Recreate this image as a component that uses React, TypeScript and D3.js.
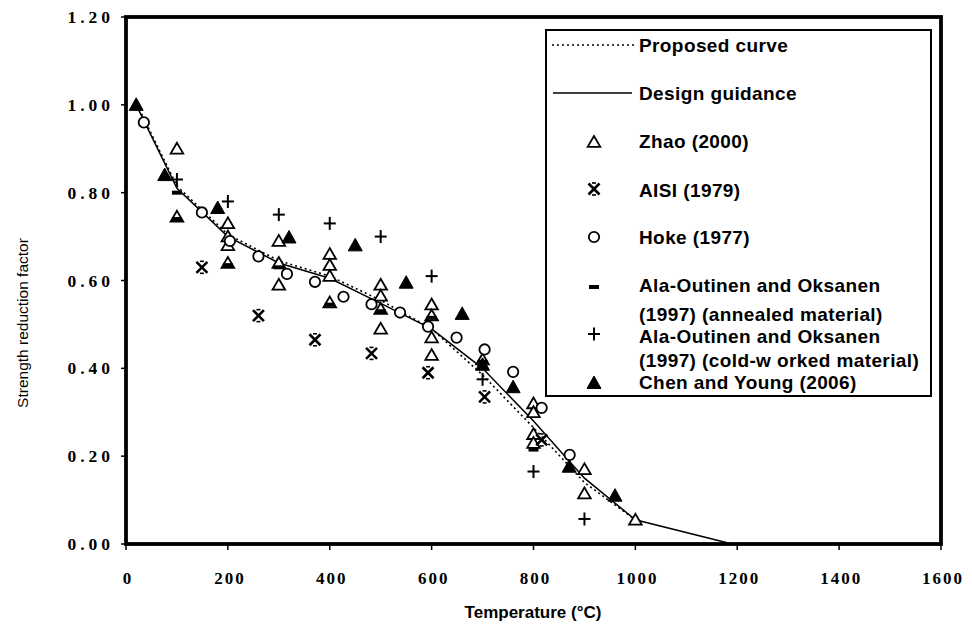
import React from 'react';
import * as d3 from 'd3';

type P = [number, number];

const xTicks = [0, 200, 400, 600, 800, 1000, 1200, 1400, 1600];
const yTicks = [0, 0.2, 0.4, 0.6, 0.8, 1.0, 1.2];

const proposedCurve: P[] = [
  [22, 1.0], [100, 0.815], [200, 0.705], [300, 0.645], [400, 0.61], [500, 0.555],
  [600, 0.49], [700, 0.385], [800, 0.265], [900, 0.14], [1000, 0.055],
];
const designGuidance: P[] = [
  [20, 1.0], [100, 0.81], [200, 0.70], [300, 0.64], [400, 0.605], [500, 0.548],
  [600, 0.49], [700, 0.40], [800, 0.28], [900, 0.15], [1000, 0.055], [1190, 0],
];
const zhao2000: P[] = [
  [100, 0.90], [100, 0.745], [200, 0.73], [200, 0.70], [200, 0.68], [200, 0.64],
  [300, 0.69], [300, 0.64], [300, 0.59], [400, 0.66], [400, 0.635], [400, 0.61], [400, 0.55],
  [500, 0.59], [500, 0.565], [500, 0.535], [500, 0.49], [600, 0.545], [600, 0.52],
  [600, 0.47], [600, 0.43], [700, 0.42], [800, 0.32], [800, 0.30], [800, 0.25],
  [800, 0.23], [900, 0.17], [900, 0.115], [1000, 0.055],
];
const aisi1979: P[] = [
  [149, 0.63], [260, 0.52], [371, 0.465], [482, 0.434], [593, 0.39], [704, 0.335], [816, 0.237],
];
const hoke1977: P[] = [
  [35, 0.96], [149, 0.755], [204, 0.69], [260, 0.655], [316, 0.615], [371, 0.597],
  [427, 0.563], [482, 0.546], [538, 0.527], [593, 0.495], [649, 0.47], [704, 0.443],
  [760, 0.392], [816, 0.31], [871, 0.203],
];
const alaAnnealed: P[] = [
  [100, 0.80], [100, 0.74], [200, 0.635], [300, 0.63], [400, 0.545], [500, 0.53],
  [600, 0.515], [700, 0.415], [800, 0.215],
];
const alaColdWorked: P[] = [
  [100, 0.83], [200, 0.78], [300, 0.75], [400, 0.73], [500, 0.70], [600, 0.61],
  [700, 0.375], [800, 0.165], [900, 0.057],
];
const chenYoung2006: P[] = [
  [20, 1.0], [76, 0.84], [180, 0.765], [320, 0.698], [450, 0.68], [550, 0.595],
  [660, 0.524], [700, 0.408], [760, 0.357], [870, 0.176], [960, 0.11],
];

const legendLabels = [
  'Proposed curve', 'Design guidance', 'Zhao (2000)', 'AISI (1979)', 'Hoke (1977)',
  'Ala-Outinen and Oksanen', '(1997) (annealed material)',
  'Ala-Outinen and Oksanen', '(1997) (cold-w orked material)', 'Chen and Young (2006)',
];

type MType = 'tri' | 'x' | 'circle' | 'dash' | 'plus' | 'ftri';

function Marker({ t, cx, cy }: { t: MType; cx: number; cy: number }) {
  const sw = 1.8;
  switch (t) {
    case 'tri':
      return <path d={`M${cx},${cy - 6}L${cx - 6.3},${cy + 4.8}L${cx + 6.3},${cy + 4.8}Z`} fill="#fff" stroke="#000" strokeWidth={sw} strokeLinejoin="miter" />;
    case 'ftri':
      return <path d={`M${cx},${cy - 7}L${cx - 7},${cy + 5.5}L${cx + 7},${cy + 5.5}Z`} fill="#000" stroke="#000" strokeWidth={1} />;
    case 'circle':
      return <circle cx={cx} cy={cy} r={5.2} fill="#fff" stroke="#000" strokeWidth={sw} />;
    case 'x':
      return (
        <g stroke="#000">
          <line x1={cx - 5.5} y1={cy - 5.5} x2={cx + 5.5} y2={cy + 5.5} strokeWidth={2.6} />
          <line x1={cx - 5.5} y1={cy + 5.5} x2={cx + 5.5} y2={cy - 5.5} strokeWidth={2.6} />
          <line x1={cx - 2} y1={cy - 6} x2={cx + 2} y2={cy - 6} strokeWidth={1.6} />
          <line x1={cx - 2} y1={cy + 6} x2={cx + 2} y2={cy + 6} strokeWidth={1.6} />
        </g>
      );
    case 'plus':
      return (
        <g stroke="#000" strokeWidth={2}>
          <line x1={cx - 6} y1={cy} x2={cx + 6} y2={cy} />
          <line x1={cx} y1={cy - 6.5} x2={cx} y2={cy + 6.5} />
        </g>
      );
    case 'dash':
      return <rect x={cx - 5} y={cy - 2} width={10} height={4} fill="#000" />;
  }
}

export default function App() {
  const W = 972;
  const H = 633;
  const x = d3.scaleLinear().domain([0, 1600]).range([126, 941]);
  const y = d3.scaleLinear().domain([0, 1.2]).range([544, 17]);
  const line = d3.line<P>().x((d) => x(d[0])).y((d) => y(d[1]));

  const series: { data: P[]; t: MType }[] = [
    { data: zhao2000, t: 'tri' },
    { data: aisi1979, t: 'x' },
    { data: hoke1977, t: 'circle' },
    { data: alaAnnealed, t: 'dash' },
    { data: alaColdWorked, t: 'plus' },
    { data: chenYoung2006, t: 'ftri' },
  ];

  const tickFont = {
    fontFamily: '"Liberation Serif", "Times New Roman", serif',
    fontWeight: 700 as const,
    fontSize: 17.5,
    letterSpacing: 4,
    fill: '#000',
  };
  const legFont = {
    fontFamily: '"Liberation Sans", Arial, sans-serif',
    fontWeight: 700 as const,
    fontSize: 19,
    letterSpacing: 0.4,
    fill: '#000',
  };

  const legX = 546, legY = 30, legW = 385, legH = 366;
  const textX = 639;
  const baselines = [52, 100, 148, 197, 244, 292, 321, 343, 367, 389];
  const legendMarkers: { t: MType; cy: number }[] = [
    { t: 'tri', cy: 142 },
    { t: 'x', cy: 189 },
    { t: 'circle', cy: 237 },
    { t: 'dash', cy: 287 },
    { t: 'plus', cy: 334 },
    { t: 'ftri', cy: 383 },
  ];

  return (
    <svg width={W} height={H} style={{ position: 'absolute', left: 0, top: 0, background: '#fff' }}>
      <rect x={0} y={0} width={W} height={H} fill="#fff" />
      {/* curves */}
      <path d={line(designGuidance) ?? ''} fill="none" stroke="#000" strokeWidth={1.5} />
      <path d={line(proposedCurve) ?? ''} fill="none" stroke="#000" strokeWidth={1.6} strokeDasharray="2,3" />
      {/* markers */}
      {series.map((s, i) => (
        <g key={i}>
          {s.data.map((d, j) => (
            <Marker key={j} t={s.t} cx={x(d[0])} cy={y(d[1])} />
          ))}
        </g>
      ))}
      {/* frame */}
      <rect x={126} y={17} width={815} height={527} fill="none" stroke="#000" strokeWidth={3.8} />
      {/* y ticks */}
      {yTicks.map((v) => (
        <g key={v}>
          <line x1={121} x2={126} y1={y(v)} y2={y(v)} stroke="#000" strokeWidth={1.5} />
          <text x={114} y={y(v) + 6} textAnchor="end" style={tickFont}>
            {v.toFixed(2)}
          </text>
        </g>
      ))}
      {/* x ticks */}
      {xTicks.map((v) => (
        <g key={v}>
          <line x1={x(v)} x2={x(v)} y1={544} y2={550} stroke="#000" strokeWidth={1.5} />
          <text x={x(v) + 2} y={584} textAnchor="middle" style={{ ...tickFont, fontSize: 17, letterSpacing: 2 }}>
            {v}
          </text>
        </g>
      ))}
      {/* axis titles */}
      <text x={533} y={618} textAnchor="middle"
        style={{ fontFamily: '"Liberation Sans", Arial, sans-serif', fontWeight: 700, fontSize: 17, fill: '#000' }}>
        Temperature (°C)
      </text>
      <text transform="translate(28,323) rotate(-90)" textAnchor="middle"
        style={{ fontFamily: '"Liberation Sans", Arial, sans-serif', fontSize: 15.5, fill: '#000' }}>
        Strength reduction factor
      </text>
      {/* legend */}
      <rect x={legX} y={legY} width={legW} height={legH} fill="#fff" stroke="#000" strokeWidth={2} />
      <line x1={552} x2={635} y1={45} y2={45} stroke="#000" strokeWidth={1.5} strokeDasharray="2,3" />
      <line x1={553} x2={632} y1={93} y2={93} stroke="#000" strokeWidth={1.3} />
      {legendMarkers.map((m, i) => (
        <Marker key={i} t={m.t} cx={594} cy={m.cy} />
      ))}
      {legendLabels.map((l, i) => (
        <text key={i} x={textX} y={baselines[i]} style={legFont}>
          {l}
        </text>
      ))}
    </svg>
  );
}
